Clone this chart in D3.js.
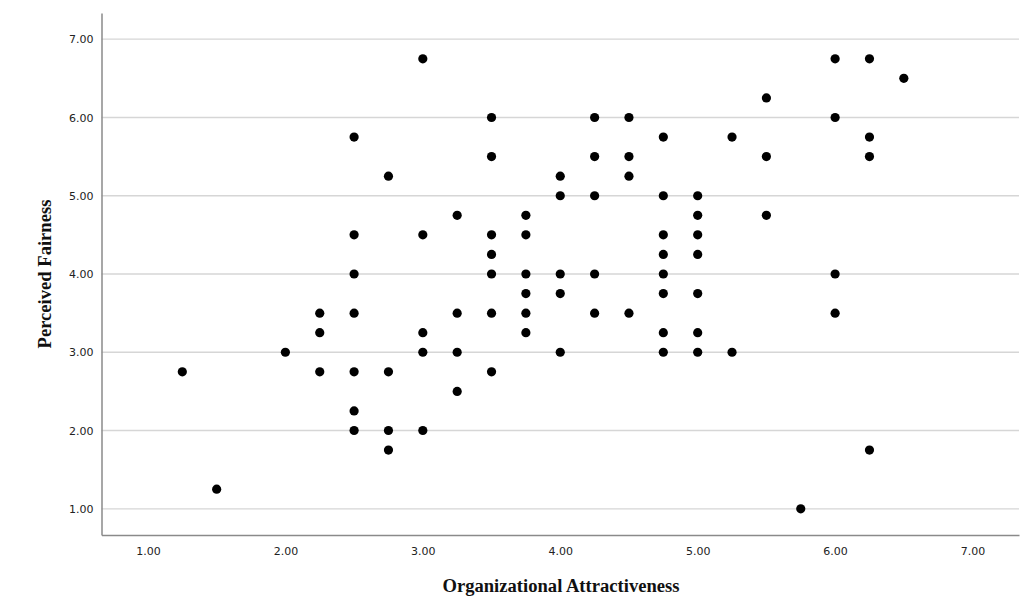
<!DOCTYPE html>
<html>
<head>
<meta charset="utf-8">
<script src="https://cdn.jsdelivr.net/npm/d3@7"></script>
<style>
  html, body { margin: 0; padding: 0; background: #fff; }
  svg { display: block; }
</style>
</head>
<body>
<svg id="chart" width="1020" height="602"></svg>
<script>
// Organizational Attractiveness (x) values
const attractiveness = [
  1.25, 1.5, 2.0,
  2.25, 2.25, 2.25,
  2.5, 2.5, 2.5, 2.5, 2.5, 2.5, 2.5,
  2.75, 2.75, 2.75, 2.75,
  3.0, 3.0, 3.0, 3.0, 3.0,
  3.25, 3.25, 3.25, 3.25,
  3.5, 3.5, 3.5, 3.5, 3.5, 3.5, 3.5,
  3.75, 3.75, 3.75, 3.75, 3.75, 3.75,
  4.0, 4.0, 4.0, 4.0, 4.0,
  4.25, 4.25, 4.25, 4.25, 4.25,
  4.5, 4.5, 4.5, 4.5,
  4.75, 4.75, 4.75, 4.75, 4.75, 4.75, 4.75, 4.75,
  5.0, 5.0, 5.0, 5.0, 5.0, 5.0, 5.0,
  5.25, 5.25,
  5.5, 5.5, 5.5,
  5.75,
  6.0, 6.0, 6.0, 6.0,
  6.25, 6.25, 6.25, 6.25,
  6.5
];
// Perceived Fairness (y) values
const fairness = [
  2.75, 1.25, 3.0,
  3.5, 3.25, 2.75,
  5.75, 4.5, 4.0, 3.5, 2.75, 2.25, 2.0,
  5.25, 2.75, 2.0, 1.75,
  6.75, 4.5, 3.25, 3.0, 2.0,
  4.75, 3.5, 3.0, 2.5,
  6.0, 5.5, 4.5, 4.25, 4.0, 3.5, 2.75,
  4.75, 4.5, 4.0, 3.75, 3.5, 3.25,
  5.25, 5.0, 4.0, 3.75, 3.0,
  6.0, 5.5, 5.0, 4.0, 3.5,
  6.0, 5.5, 5.25, 3.5,
  5.75, 5.0, 4.5, 4.25, 4.0, 3.75, 3.25, 3.0,
  5.0, 4.75, 4.5, 4.25, 3.75, 3.25, 3.0,
  5.75, 3.0,
  6.25, 5.5, 4.75,
  1.0,
  6.75, 6.0, 4.0, 3.5,
  6.75, 5.75, 5.5, 1.75,
  6.5
];
const xTicks = [1, 2, 3, 4, 5, 6, 7];
const yTicks = [1, 2, 3, 4, 5, 6, 7];
const xTitle = "Organizational Attractiveness";
const yTitle = "Perceived Fairness";

const points = attractiveness.map((a, i) => ({x: a, y: fairness[i]}));

const svg = d3.select("#chart");
const plotLeft = 101.5, plotRight = 1019, plotTop = 13, plotBottom = 535;

const x = d3.scaleLinear().domain([0.662, 7.338]).range([plotLeft, plotRight]);
const y = d3.scaleLinear().domain([0.665, 7.335]).range([plotBottom, plotTop]);

// gridlines
svg.append("g")
  .selectAll("line")
  .data(yTicks)
  .join("line")
  .attr("x1", plotLeft).attr("x2", plotRight)
  .attr("y1", d => y(d)).attr("y2", d => y(d))
  .attr("stroke", "#d6d6d6")
  .attr("stroke-width", 1.3);

// x axis
const xAxis = svg.append("g")
  .attr("transform", `translate(0,${plotBottom})`)
  .call(d3.axisBottom(x).tickValues(xTicks).tickFormat(d3.format(".2f")).tickSize(0).tickPadding(12));
xAxis.select(".domain").attr("stroke", "#8a8a8a").attr("stroke-width", 1.5);
xAxis.selectAll("text").attr("font-family", "'DejaVu Sans', Verdana, sans-serif").attr("font-size", 11).attr("fill", "#222");

// y axis
const yAxis = svg.append("g")
  .attr("transform", `translate(${plotLeft},0)`)
  .call(d3.axisLeft(y).tickValues(yTicks).tickFormat(d3.format(".2f")).tickSize(0).tickPadding(8));
yAxis.select(".domain").attr("stroke", "#8a8a8a").attr("stroke-width", 1.5);
yAxis.selectAll("text").attr("font-family", "'DejaVu Sans', Verdana, sans-serif").attr("font-size", 11).attr("fill", "#222");

// points
svg.append("g")
  .selectAll("circle")
  .data(points)
  .join("circle")
  .attr("cx", d => x(d.x))
  .attr("cy", d => y(d.y))
  .attr("r", 4.6)
  .attr("fill", "#000");

// titles
svg.append("text")
  .attr("x", 561).attr("y", 592)
  .attr("text-anchor", "middle")
  .attr("font-family", "'Liberation Serif', 'Times New Roman', serif")
  .attr("font-weight", "bold")
  .attr("font-size", 18.6)
  .attr("fill", "#111")
  .text(xTitle);

svg.append("text")
  .attr("transform", "translate(51,274) rotate(-90)")
  .attr("text-anchor", "middle")
  .attr("font-family", "'Liberation Serif', 'Times New Roman', serif")
  .attr("font-weight", "bold")
  .attr("font-size", 18.6)
  .attr("fill", "#111")
  .text(yTitle);
</script>
</body>
</html>
